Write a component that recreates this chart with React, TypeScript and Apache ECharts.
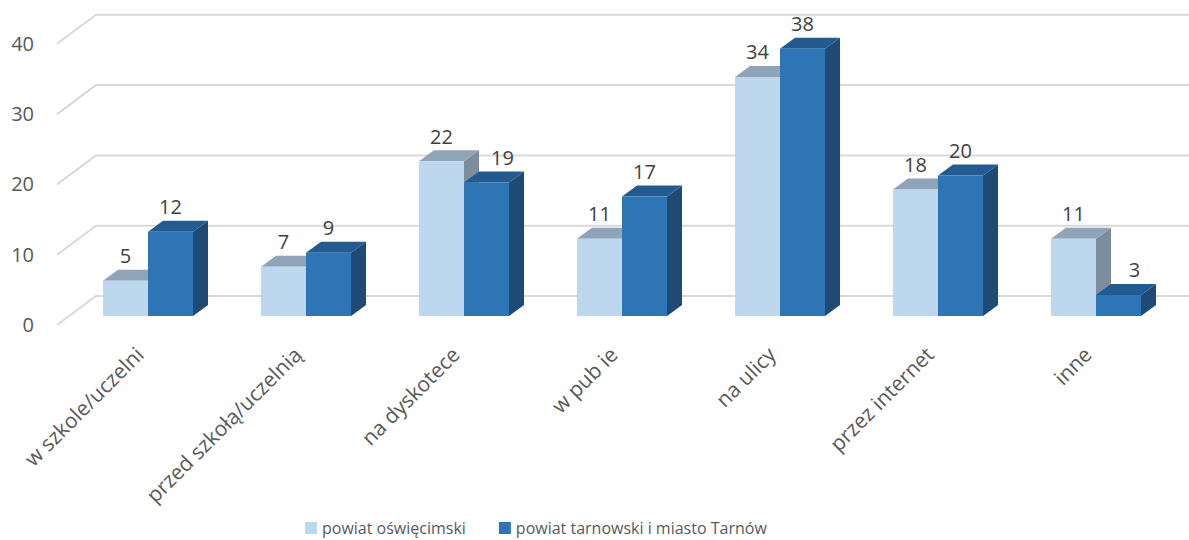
import React, { useEffect, useRef } from "react";
import * as echarts from "echarts";

const categories = [
  "w szkole/uczelni",
  "przed szkołą/uczelnią",
  "na dyskotece",
  "w pub ie",
  "na ulicy",
  "przez internet",
  "inne",
];
const seriesNames = ["powiat oświęcimski", "powiat tarnowski i miasto Tarnów"];
const valuesOswiecim = [5, 7, 22, 11, 34, 18, 11];
const valuesTarnow = [12, 9, 19, 17, 38, 20, 3];
const yTicks = [0, 10, 20, 30, 40];

const FONT = "'Open Sans', sans-serif";
const TEXT = "#595959";

const palettes = [
  { front: "#BDD7EE", top: "#8FA4B8", side: "#7C8D9E" },
  { front: "#2E75B6", top: "#235B90", side: "#1E4A74" },
];

const DX = 15;
const DY = -11;

function barRender(seriesIdx: number) {
  const pal = palettes[seriesIdx];
  return (params: any, api: any) => {
    const ci = api.value(0);
    const v = api.value(1);
    const top = api.coord([ci, v]);
    const base = api.coord([ci, 0]);
    const bw = api.size([1, 0])[0] * 0.285;
    const x0 = seriesIdx === 0 ? top[0] - bw : top[0];
    const x1 = x0 + bw;
    const yt = top[1];
    const yb = base[1];
    // label shifts right when the right-hand bar is lower than its neighbour
    const shift = seriesIdx === 1 && v < valuesOswiecim[ci] ? DX + 1 : 0;
    return {
      type: "group",
      children: [
        {
          type: "polygon",
          shape: { points: [[x1, yt], [x1 + DX, yt + DY], [x1 + DX, yb + DY], [x1, yb]] },
          style: { fill: pal.side },
        },
        {
          type: "polygon",
          shape: { points: [[x0, yt], [x1, yt], [x1 + DX, yt + DY], [x0 + DX, yt + DY]] },
          style: { fill: pal.top },
        },
        {
          type: "rect",
          shape: { x: x0, y: yt, width: bw, height: yb - yt },
          style: { fill: pal.front },
        },
        {
          type: "text",
          style: {
            text: String(v),
            x: (x0 + x1) / 2 + shift,
            y: yt + DY - 14,
            align: "center",
            verticalAlign: "middle",
            fill: "#404040",
            font: `20px ${FONT}`,
          },
        },
      ],
    };
  };
}

function gridRender(params: any, api: any) {
  const v = api.value(1);
  const p = api.coord([0, v]);
  const cs = params.coordSys;
  const xf = cs.x - 12;
  const xb = cs.x + 27;
  const yf = p[1] + 9;
  const yb = p[1] - 20;
  return {
    type: "group",
    children: [
      {
        type: "polyline",
        shape: { points: [[xf, yf], [xb, yb], [1189, yb]] },
        style: { stroke: "#D9D9D9", lineWidth: 2, fill: "none" },
      },
    ],
  };
}

export default function App() {
  const ref = useRef<HTMLDivElement>(null);
  useEffect(() => {
    if (!ref.current) return;
    const chart = echarts.init(ref.current, null, { renderer: "svg" });
    chart.setOption({
      animation: false,
      textStyle: { fontFamily: FONT },
      grid: { left: 69, right: 14, top: 34.8, bottom: 224 },
      legend: {
        top: 515,
        left: 300,
        itemWidth: 12,
        itemHeight: 12,
        itemGap: 33,
        icon: "rect",
        textStyle: { color: TEXT, fontSize: 16, fontFamily: FONT },
        data: seriesNames,
      },
      xAxis: {
        type: "category",
        data: categories,
        axisLine: { show: false },
        axisTick: { show: false },
        axisLabel: {
          rotate: 45,
          margin: 26,
          padding: [0, 12, 0, 0],
          color: TEXT,
          fontSize: 21,
          fontFamily: FONT,
          interval: 0,
        },
      },
      yAxis: {
        type: "value",
        min: 0,
        max: 40,
        interval: 10,
        splitLine: { show: false },
        axisLine: { show: false },
        axisTick: { show: false },
        axisLabel: {
          margin: 35,
          color: TEXT,
          fontSize: 20,
          fontFamily: FONT,
          verticalAlign: "top",
          lineHeight: 17,
        },
      },
      series: [
        {
          type: "custom",
          name: "grid",
          z: 0,
          silent: true,
          renderItem: gridRender,
          data: yTicks.map((t) => [0, t]),
          encode: { x: 0, y: 1 },
        },
        {
          type: "custom",
          name: seriesNames[0],
          z: 2,
          itemStyle: { color: palettes[0].front },
          renderItem: barRender(0),
          data: valuesOswiecim.map((v, i) => [i, v]),
          encode: { x: 0, y: 1 },
        },
        {
          type: "custom",
          name: seriesNames[1],
          z: 3,
          itemStyle: { color: palettes[1].front },
          renderItem: barRender(1),
          data: valuesTarnow.map((v, i) => [i, v]),
          encode: { x: 0, y: 1 },
        },
      ],
    });
    return () => chart.dispose();
  }, []);
  return (
    <div
      ref={ref}
      style={{ position: "fixed", left: 0, top: 0, width: 1189, height: 540, background: "#fff" }}
    />
  );
}
